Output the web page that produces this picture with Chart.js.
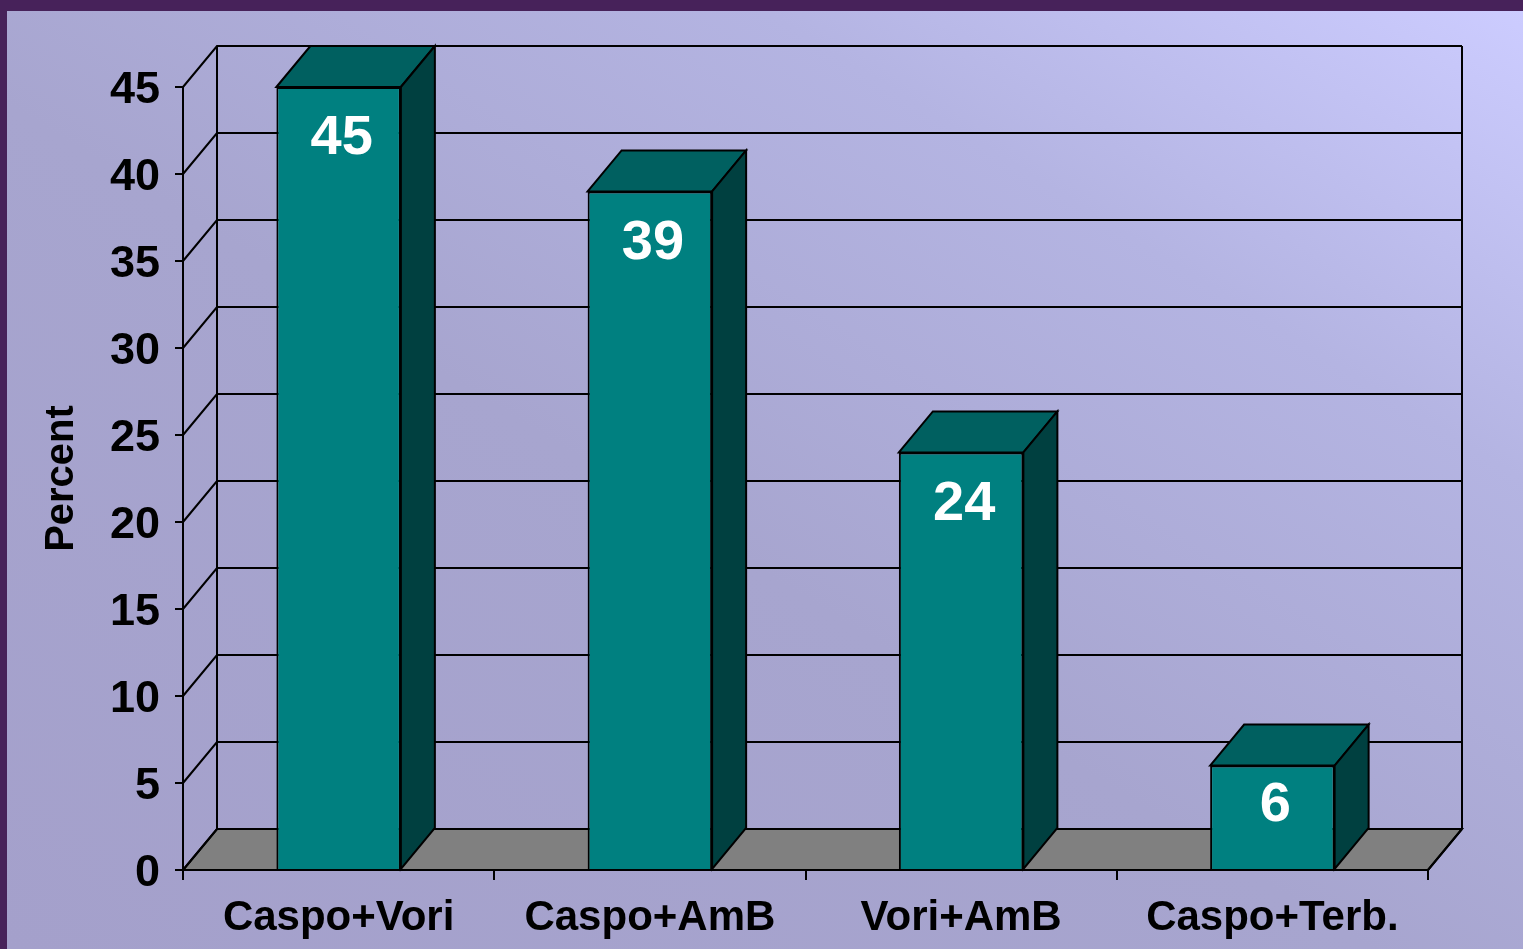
<!DOCTYPE html>
<html>
<head>
<meta charset="utf-8">
<script src="https://cdn.jsdelivr.net/npm/chart.js@4.4.1/dist/chart.umd.min.js"></script>
<style>
    html, body { margin: 0; padding: 0; }
    body { width: 1523px; height: 949px; background: #47225a; position: relative; overflow: hidden; }
    #panel {
        position: absolute; left: 7px; top: 11px; width: 1516px; height: 938px;
        background: linear-gradient(to bottom left, #ccccff 0%, #b4b4e2 25%, #a7a5cf 55%, #a4a0cb 100%);
    }
    #chart { position: absolute; left: 0; top: 0; }
</style>
</head>
<body>
<div id="panel"></div>
<canvas id="chart" width="1523" height="949"></canvas>
<script>
// data
var categories = ['Caspo+Vori', 'Caspo+AmB', 'Vori+AmB', 'Caspo+Terb.'];
var percents = [45, 39, 24, 6];
var yTicks = [0, 5, 10, 15, 20, 25, 30, 35, 40, 45];

// 3D depth offset
var DX = 34, DY = -41;

var frontColor = '#008080';
var topColor = '#006060';
var sideColor = '#004040';

var box3d = {
    id: 'box3d',
    beforeDatasetsDraw: function(chart) {
        var ctx = chart.ctx;
        var y = chart.scales.y;
        var a = chart.chartArea;
        ctx.save();
        ctx.lineWidth = 2;
        ctx.strokeStyle = '#000';

        // floor
        ctx.fillStyle = '#808080';
        ctx.beginPath();
        ctx.moveTo(a.left, a.bottom);
        ctx.lineTo(a.left + DX, a.bottom + DY);
        ctx.lineTo(a.right + DX, a.bottom + DY);
        ctx.lineTo(a.right, a.bottom);
        ctx.closePath();
        ctx.fill();
        ctx.stroke();

        // back wall grid + side wall diagonals
        yTicks.forEach(function(v) {
            var py = y.getPixelForValue(v);
            ctx.beginPath();
            ctx.moveTo(a.left, py);
            ctx.lineTo(a.left + DX, py + DY);
            ctx.lineTo(a.right + DX, py + DY);
            ctx.stroke();
        });
        ctx.beginPath();
        ctx.moveTo(a.left + DX, a.top + DY);
        ctx.lineTo(a.left + DX, a.bottom + DY);
        ctx.moveTo(a.right + DX, a.top + DY);
        ctx.lineTo(a.right + DX, a.bottom + DY);
        ctx.moveTo(a.right, a.bottom);
        ctx.lineTo(a.right + DX, a.bottom + DY);
        ctx.stroke();
        ctx.restore();
    },
    afterDatasetsDraw: function(chart) {
        var ctx = chart.ctx;
        var meta = chart.getDatasetMeta(0);
        ctx.save();
        ctx.lineWidth = 2;
        ctx.strokeStyle = '#000';
        ctx.lineJoin = 'miter';
        meta.data.forEach(function(bar, i) {
            var l = bar.x - bar.width / 2, r = bar.x + bar.width / 2;
            var t = bar.y, b = bar.base;
            // top face
            ctx.fillStyle = topColor;
            ctx.beginPath();
            ctx.moveTo(l, t);
            ctx.lineTo(l + DX, t + DY);
            ctx.lineTo(r + DX, t + DY);
            ctx.lineTo(r, t);
            ctx.closePath();
            ctx.fill();
            ctx.stroke();
            // side face
            ctx.fillStyle = sideColor;
            ctx.beginPath();
            ctx.moveTo(r, t);
            ctx.lineTo(r + DX, t + DY);
            ctx.lineTo(r + DX, b + DY);
            ctx.lineTo(r, b);
            ctx.closePath();
            ctx.fill();
            ctx.stroke();
            // value label
            var h = b - t;
            ctx.fillStyle = '#fff';
            ctx.font = 'bold 56px "Liberation Sans", Arial, sans-serif';
            ctx.textAlign = 'center';
            ctx.textBaseline = 'middle';
            ctx.fillText(String(percents[i]), bar.x + 3, t + Math.min(48, h * 0.35) + 4);
        });
        ctx.restore();
    }
};

var ctx = document.getElementById('chart').getContext('2d');
new Chart(ctx, {
    type: 'bar',
    data: {
        labels: categories,
        datasets: [{
            data: percents,
            backgroundColor: frontColor,
            borderColor: '#000',
            borderWidth: 2,
            categoryPercentage: 1,
            barPercentage: 0.4
        }]
    },
    options: {
        responsive: false,
        animation: false,
        devicePixelRatio: 1,
        layout: { padding: { top: 87, right: 95, left: 0, bottom: 0 } },
        plugins: {
            legend: { display: false },
            tooltip: { enabled: false }
        },
        scales: {
            x: {
                offset: true,
                grid: {
                    offset: true,
                    drawOnChartArea: false,
                    tickLength: 10,
                    color: '#000',
                    lineWidth: 2
                },
                border: { color: '#000', width: 2 },
                ticks: {
                    color: '#000',
                    padding: 13,
                    font: { family: '"Liberation Sans", Arial, sans-serif', size: 42, weight: 'bold' }
                },
                afterFit: function(s) { s.height = 79; }
            },
            y: {
                min: 0,
                max: 45,
                ticks: {
                    stepSize: 5,
                    color: '#000',
                    padding: 15,
                    labelOffset: 4,
                    font: { family: '"Liberation Sans", Arial, sans-serif', size: 45, weight: 'bold' }
                },
                grid: {
                    drawOnChartArea: false,
                    tickLength: 8,
                    color: '#000',
                    lineWidth: 2
                },
                border: { color: '#000', width: 2 },
                title: {
                    display: true,
                    text: 'Percent',
                    color: '#000',
                    padding: { top: 38 },
                    font: { family: '"Liberation Sans", Arial, sans-serif', size: 40, weight: 'bold' }
                },
                afterFit: function(s) { s.width = 183; }
            }
        }
    },
    plugins: [box3d]
});
</script>
</body>
</html>
